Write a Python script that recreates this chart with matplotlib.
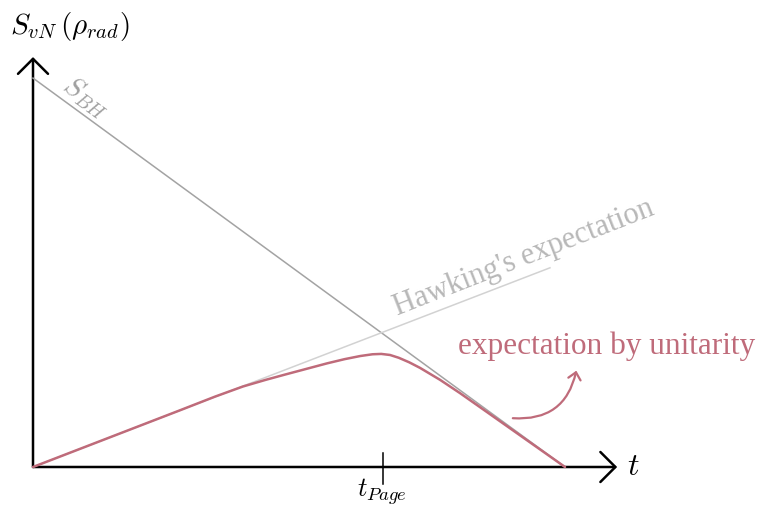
import numpy as np
import matplotlib.pyplot as plt
from matplotlib.patches import FancyArrowPatch

plt.rcParams['mathtext.fontset'] = 'cm'

# time axis scaled so that t_Page = 1
t_page = 1.0

# Bekenstein-Hawking entropy (falls to zero at evaporation)
t_bh = [0.0, 1.52]
s_bh = [1.111, 0.0]

# Hawking's naive expectation (keeps growing)
t_hawk = [0.0, 1.477]
s_hawk = [0.0, 0.569]

# Page curve
t_page_curve = [0.0, 0.42, 0.52, 0.6, 0.665, 0.72, 0.78, 0.84, 0.89, 0.935, 0.97,
                0.995, 1.02, 1.045, 1.075, 1.106, 1.163, 1.22, 1.277, 1.52]
s_page_curve = [0.0, 0.162, 0.201, 0.23, 0.249, 0.264, 0.28, 0.296, 0.308, 0.317, 0.322,
                0.323, 0.32, 0.312, 0.299, 0.283, 0.249, 0.211, 0.171, 0.0]

red = '#bf6b7a'

fig = plt.figure(figsize=(7.61, 5.11), dpi=100)
ax = fig.add_axes([0, 0, 1, 1])
ax.set_xlim(-0.0943, 2.08)
ax.set_ylim(-0.1257, 1.334)
ax.axis('off')

ax.plot(t_bh, s_bh, color='#a3a3a3', lw=1.1)
ax.plot(t_hawk, s_hawk, color='#d2d2d2', lw=1.1)
ax.plot(t_page_curve, s_page_curve, color=red, lw=1.8,
        solid_joinstyle='round', solid_capstyle='round')

# axes with open arrow heads
arrow_kw = dict(arrowstyle='->,head_length=1,head_width=1', mutation_scale=10.8,
                color='black', lw=1.8, shrinkA=0, shrinkB=0)
ax.add_patch(FancyArrowPatch((0, 0), (0, 1.171), **arrow_kw))
ax.add_patch(FancyArrowPatch((0, 0), (1.669, 0), **arrow_kw))

# Page time tick
ax.plot([t_page, t_page], [0.04, -0.05], color='black', lw=1.1)

ax.text(-0.066, 1.237, r'$S_{vN}\,(\rho_{rad})$', fontsize=21, ha='left', va='baseline')
ax.text(1.697, 0.0, r'$t$', fontsize=23, ha='left', va='center')
ax.text(0.998, -0.0857, r'$t_{Page}$', fontsize=19, ha='center', va='baseline')
ax.text(0.152, 1.055, r'$S_{BH}$', fontsize=20, color='#a0a0a0', rotation=-36,
        ha='center', va='center', rotation_mode='anchor')

ax.text(1.04, 0.434, "Hawking's expectation", family='Liberation Serif',
        fontsize=22, color='#b8b8b8', rotation=21.4, rotation_mode='anchor',
        ha='left', va='baseline')
ax.text(1.214, 0.322, 'expectation by unitarity', family='Liberation Serif',
        fontsize=22.5, color=red, ha='left', va='baseline')

ax.add_patch(FancyArrowPatch((1.363, 0.140), (1.554, 0.283),
                             connectionstyle='arc3,rad=0.45',
                             arrowstyle='->,head_length=0.5,head_width=0.45',
                             mutation_scale=10, color=red, lw=1.6))

fig.savefig('out.png', dpi=100)
